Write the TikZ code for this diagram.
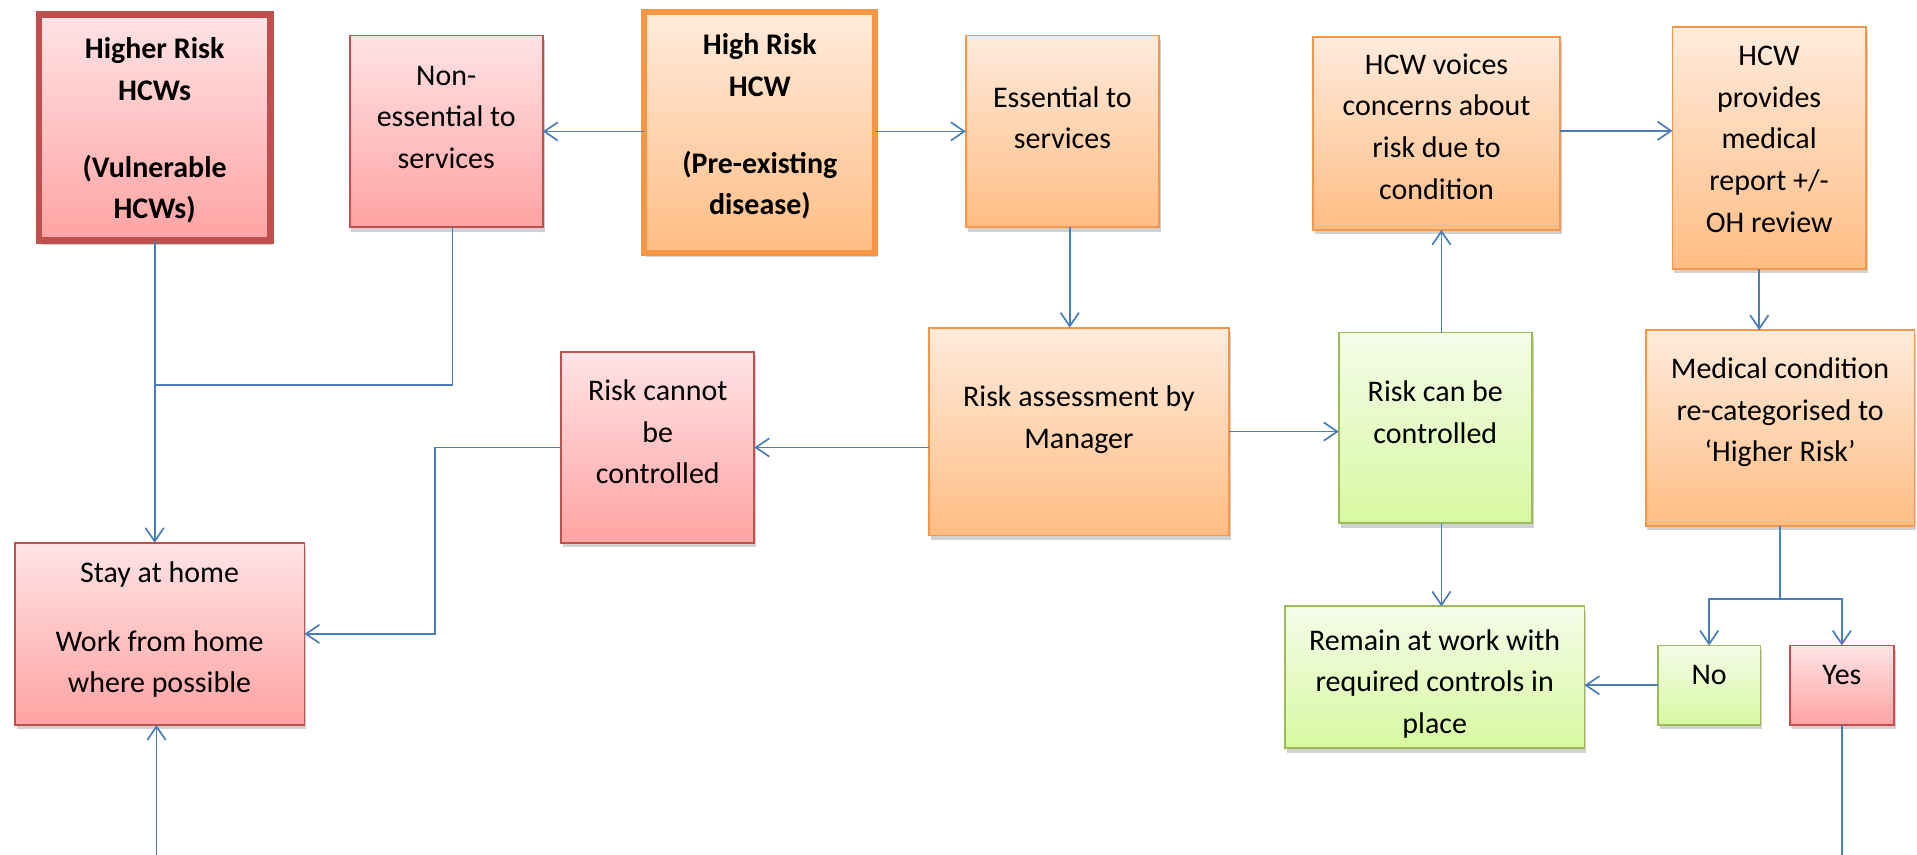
\documentclass[tikz,border=0pt]{standalone}
\usepackage{fontspec}
\setmainfont{Carlito}
\usetikzlibrary{arrows.meta,shadows,calc}
\definecolor{lnblue}{HTML}{4A7EBB}
\definecolor{rbord}{HTML}{C0504D}
\definecolor{obord}{HTML}{F79646}
\definecolor{gbord}{HTML}{9BBB59}
\definecolor{rtop}{HTML}{FFE3E4}
\definecolor{rbot}{HTML}{FFA3A3}
\definecolor{otop}{HTML}{FFEBDC}
\definecolor{obot}{HTML}{FFBD84}
\definecolor{gtop}{HTML}{F4FCE9}
\definecolor{gbot}{HTML}{D7F9A0}
\newcommand\bxt[4]{\begin{minipage}[t][#2][t]{#1}\centering\vspace*{#3}\strut #4\end{minipage}}
\begin{document}
\begin{tikzpicture}[x=1pt,y=-1pt,
 base/.style={inner sep=0pt, outer sep=0pt, font=\fontsize{24.5}{34}\selectfont, line width=1.5pt,
   drop shadow={shadow xshift=1.5pt,shadow yshift=-3.5pt,opacity=0.3,fill=black!60}},
 boldtxt/.style={font=\fontsize{24.5}{34}\selectfont\bfseries},
 redbox/.style={base, draw=rbord, top color=rtop, bottom color=rbot},
 orbox/.style={base, draw=obord, top color=otop, bottom color=obot},
 grbox/.style={base, draw=gbord, top color=gtop, bottom color=gbot},
 ln/.style={draw=lnblue, line width=1.4pt},
 arr/.style={ln, -{Straight Barb[length=11pt,width=15pt,line width=1.4pt]}}]
\useasboundingbox (0,0) rectangle (1568,699);

\node[redbox, boldtxt, line width=5.5pt] (hr) at (126.5,104.5) {\bxt{189pt}{185pt}{12pt}{Higher Risk\\HCWs\\[29pt](Vulnerable\\HCWs)}};
\node[redbox] (ne) at (365,107.5) {\bxt{158pt}{157pt}{17pt}{Non-\\essential to\\services}};
\node[orbox, boldtxt, line width=5pt] (hrh) at (621.5,108.5) {\bxt{189pt}{197pt}{11pt}{High Risk\\HCW\\[29pt](Pre-existing\\disease)}};
\node[orbox] (es) at (869,107.5) {\bxt{158pt}{157pt}{35pt}{Essential to\\services}};
\node[orbox] (hv) at (1175,109) {\bxt{202pt}{158pt}{7pt}{HCW voices\\concerns about\\risk due to\\condition}};
\node[orbox] (hp) at (1447,121) {\bxt{158pt}{198pt}{8pt}{HCW\\provides\\medical\\report +/-\\OH review}};
\node[orbox] (ra) at (882.5,353) {\bxt{245pt}{170pt}{41pt}{Risk assessment by\\Manager}};
\node[redbox] (rcn) at (538,366) {\bxt{158pt}{156pt}{16pt}{Risk cannot\\be\\controlled}};
\node[grbox] (rc) at (1174,350) {\bxt{158pt}{156pt}{33pt}{Risk can be\\controlled}};
\node[orbox] (mc) at (1456,350) {\bxt{220pt}{160pt}{16pt}{Medical condition\\re-categorised to\\‘Higher Risk’}};
\node[redbox] (sh) at (130.5,518.5) {\bxt{237pt}{149pt}{9pt}{Stay at home\\[22pt]Work from home\\where possible}};
\node[grbox] (rw) at (1173.5,554) {\bxt{245pt}{116pt}{12pt}{Remain at work with\\required controls in\\place}};
\node[grbox] (no) at (1398,560.5) {\bxt{84pt}{65pt}{8pt}{No}};
\node[redbox] (yes) at (1506.5,560.5) {\bxt{85pt}{65pt}{8pt}{Yes}};

\coordinate (j1) at (hr.south |- 0,315);
\coordinate (b1) at (356,366);
\coordinate (sp) at (1456,490);
\coordinate (yb) at (1506.5,699);
\coordinate (sb) at (128,699);

\draw[ln] ([xshift=5pt]ne.south) |- (j1);
\draw[arr] (hr.south) -- (hr.south |- sh.north);
\draw[arr] (ne.east -| hrh.west) -- (ne.east);
\draw[arr] (es.west -| hrh.east) -- (es.west);
\draw[arr] ([xshift=6pt]es.south) -- ([xshift=6pt]es.south |- ra.north);
\draw[arr] (ra.west |- rcn.east) -- (rcn.east);
\draw[arr] (rcn.west) -- (rcn.west -| b1) |- (sh.east);
\draw[arr] (ra.east) -- (ra.east -| rc.west);
\draw[arr] ([xshift=5pt]rc.north) -- ([xshift=5pt]rc.north |- hv.south);
\draw[arr] ([yshift=2pt]hv.east) -- ([yshift=2pt]hv.east -| hp.west);
\draw[arr] ([xshift=-8pt]hp.south) -- ([xshift=-8pt]hp.south |- mc.north);
\draw[ln] (mc.south) -- (sp);
\draw[arr] (sp) -| (no.north);
\draw[arr] (sp) -| (yes.north);
\draw[arr] ([xshift=5pt]rc.south) -- ([xshift=5pt]rc.south |- rw.north);
\draw[arr] (no.west) -- (no.west -| rw.east);
\draw[ln] (yes.south) -- (yb);
\draw[arr] (sb) -- (sb |- sh.south);
\end{tikzpicture}
\end{document}
